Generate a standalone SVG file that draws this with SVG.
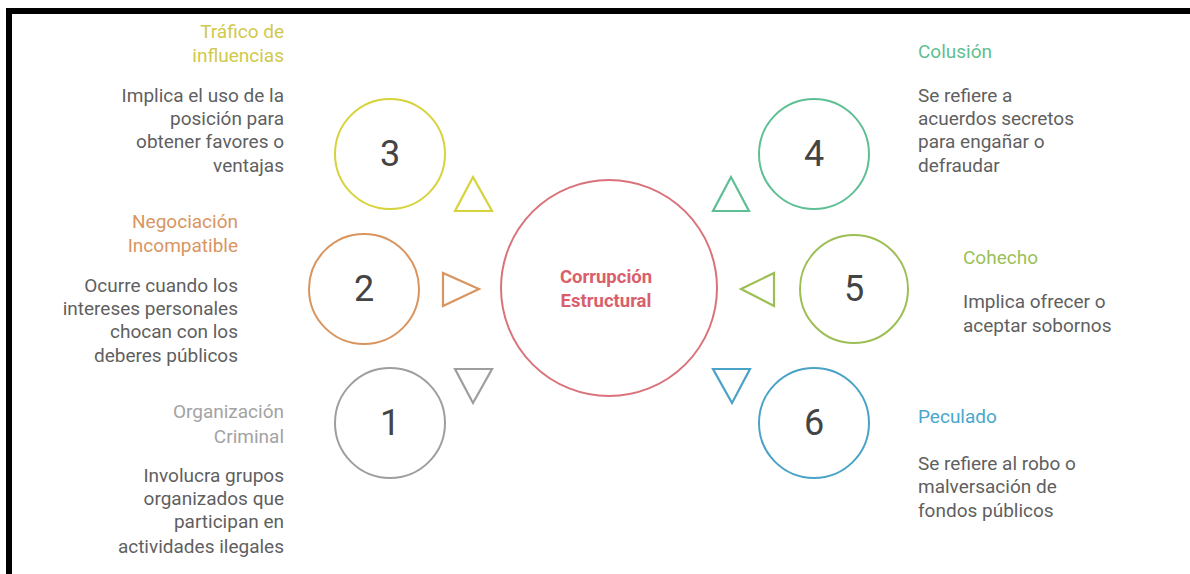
<svg xmlns="http://www.w3.org/2000/svg" width="1190" height="574" viewBox="0 0 1190 574">
<style>
text{font-family:Roboto,"Liberation Sans",sans-serif}
.t{font-size:19px}
.b{font-size:19px;fill:#5f5f5f}
.r{text-anchor:end}
.n{font-size:36px;fill:#444;text-anchor:middle}
.c{fill:none;stroke-width:2}
.tri{fill:none;stroke-width:2.2;stroke-linejoin:miter}
</style>
<rect x="0" y="0" width="1190" height="574" fill="#fff"/>
<path d="M6 11H1190M9 8V574" stroke="#000" stroke-width="6" fill="none"/>

<g id="center">
<circle class="c" cx="609" cy="288" r="108" stroke="#d9727b"/>
<text x="606" y="283" text-anchor="middle" font-size="18.5" font-weight="bold" fill="#d9606b">Corrupción</text>
<text x="606" y="307" text-anchor="middle" font-size="18.5" font-weight="bold" fill="#d9606b">Estructural</text>
</g>

<g id="connectors">
<polygon class="tri" points="473,177 455,211 492,211" stroke="#d6d33c"/>
<polygon class="tri" points="443,273 443,306 479,289" stroke="#d9955f"/>
<polygon class="tri" points="455,369 492,369 473,403" stroke="#9e9e9e"/>
<polygon class="tri" points="731,177 713,211 749,211" stroke="#5fbf94"/>
<polygon class="tri" points="741,289 774,273 774,306" stroke="#9cbf55"/>
<polygon class="tri" points="713,369 750,369 732,403" stroke="#4aa3c7"/>
</g>

<g id="node3">
<circle class="c" cx="390" cy="154" r="55" stroke="#d6d33c"/>
<text class="n" x="390" y="166">3</text>
<text class="t r" x="284" y="38" fill="#d0c94c">Tráfico de</text>
<text class="t r" x="284" y="62" fill="#d0c94c">influencias</text>
<text class="b r" x="284" y="102">Implica el uso de la</text>
<text class="b r" x="284" y="125">posición para</text>
<text class="b r" x="284" y="148">obtener favores o</text>
<text class="b r" x="284" y="172">ventajas</text>
</g>

<g id="node2">
<circle class="c" cx="364" cy="289" r="55" stroke="#d9955f"/>
<text class="n" x="364" y="301">2</text>
<text class="t r" x="238" y="228" fill="#d99562">Negociación</text>
<text class="t r" x="238" y="252" fill="#d99562">Incompatible</text>
<text class="b r" x="238" y="292">Ocurre cuando los</text>
<text class="b r" x="238" y="315">intereses personales</text>
<text class="b r" x="238" y="338">chocan con los</text>
<text class="b r" x="238" y="362">deberes públicos</text>
</g>

<g id="node1">
<circle class="c" cx="390" cy="423" r="55" stroke="#9e9e9e"/>
<text class="n" x="390" y="435">1</text>
<text class="t r" x="284" y="418" fill="#a3a3a3">Organización</text>
<text class="t r" x="284" y="443" fill="#a3a3a3">Criminal</text>
<text class="b r" x="284" y="482">Involucra grupos</text>
<text class="b r" x="284" y="505">organizados que</text>
<text class="b r" x="284" y="528">participan en</text>
<text class="b r" x="284" y="553">actividades ilegales</text>
</g>

<g id="node4">
<circle class="c" cx="814" cy="154" r="55" stroke="#5fbf94"/>
<text class="n" x="814" y="166">4</text>
<text class="t" x="918" y="58" fill="#5fbf94">Colusión</text>
<text class="b" x="918" y="102">Se refiere a</text>
<text class="b" x="918" y="125">acuerdos secretos</text>
<text class="b" x="918" y="148">para engañar o</text>
<text class="b" x="918" y="172">defraudar</text>
</g>

<g id="node5">
<circle class="c" cx="854" cy="289" r="54" stroke="#9cbf55"/>
<text class="n" x="854" y="301">5</text>
<text class="t" x="963" y="264" fill="#9cbf5a">Cohecho</text>
<text class="b" x="963" y="308">Implica ofrecer o</text>
<text class="b" x="963" y="332">aceptar sobornos</text>
</g>

<g id="node6">
<circle class="c" cx="814" cy="423" r="55" stroke="#4aa3c7"/>
<text class="n" x="814" y="435">6</text>
<text class="t" x="918" y="423" fill="#4aa7cc">Peculado</text>
<text class="b" x="918" y="470">Se refiere al robo o</text>
<text class="b" x="918" y="493">malversación de</text>
<text class="b" x="918" y="517">fondos públicos</text>
</g>
</svg>
